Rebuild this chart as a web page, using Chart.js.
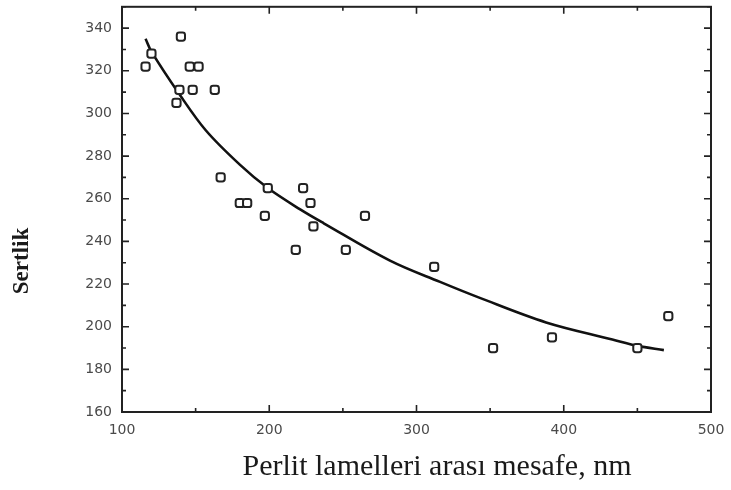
<!DOCTYPE html>
<html>
<head>
<meta charset="utf-8">
<script src="https://cdn.jsdelivr.net/npm/chart.js@4/dist/chart.umd.min.js"></script>
<style>
  html, body { margin: 0; padding: 0; background: #fff; }
  #wrap { width: 731px; height: 490px; }
</style>
</head>
<body>
<div id="wrap"><canvas id="hardnessChart"></canvas></div>
<script>
// measured points (spacing nm, hardness)
var spacingX = [116, 120, 140, 146, 152, 139, 148, 163, 137, 167, 180, 185, 199, 223, 228, 197, 265, 230, 218, 252, 312, 352, 392, 450, 471];
var hardnessY = [322, 328, 336, 322, 322, 311, 311, 311, 305, 270, 258, 258, 265, 265, 258, 252, 252, 247, 236, 236, 228, 190, 195, 190, 205];

// trend curve
var curveX = [116, 120, 139, 157, 180, 199, 221, 237, 282, 316, 343, 388, 433, 450, 468];
var curveY = [335, 329, 309, 292, 276, 265, 255, 248.5, 231, 221, 213.5, 202, 194, 191, 189];

var xTickLabels = [100, 200, 300, 400, 500];
var yTickLabels = [160, 180, 200, 220, 240, 260, 280, 300, 320, 340];

function toPoints(xs, ys) {
  return xs.map(function(x, i) { return { x: x, y: ys[i] }; });
}

// frame, inward ticks on all four sides, axis titles
var framePlugin = {
  id: 'frame',
  afterDraw: function(chart) {
    var c = chart.ctx, a = chart.chartArea;
    var xs = chart.scales.x, ys = chart.scales.y;
    c.save();
    c.strokeStyle = '#222';
    c.lineWidth = 2;
    c.strokeRect(a.left, a.top, a.right - a.left, a.bottom - a.top);

    c.lineWidth = 1.6;
    c.beginPath();
    for (var v = 100; v <= 500; v += 50) {
      var px = xs.getPixelForValue(v);
      var len = (v % 100 === 0) ? 7 : 4;
      c.moveTo(px, a.bottom); c.lineTo(px, a.bottom - len);
      c.moveTo(px, a.top); c.lineTo(px, a.top + len);
    }
    for (var w = 160; w <= 350; w += 10) {
      var py = ys.getPixelForValue(w);
      var len2 = (w % 20 === 0) ? 7 : 4;
      c.moveTo(a.left, py); c.lineTo(a.left + len2, py);
      c.moveTo(a.right, py); c.lineTo(a.right - len2, py);
    }
    c.stroke();

    // axis titles
    c.fillStyle = '#1a1a1a';
    c.textAlign = 'center';
    c.textBaseline = 'middle';
    c.font = '30px "Liberation Serif", "DejaVu Serif", serif';
    c.fillText('Perlit lamelleri arası mesafe, nm', 437, 467);

    c.translate(22, 261);
    c.rotate(-Math.PI / 2);
    c.font = 'bold 23px "Liberation Serif", "DejaVu Serif", serif';
    c.fillText('Sertlik', 0, 0);
    c.restore();
  }
};

var ctx = document.getElementById('hardnessChart').getContext('2d');
var hardnessChart = new Chart(ctx, {
  type: 'scatter',
  data: {
    datasets: [{
      label: 'Ölçüm',
      data: toPoints(spacingX, hardnessY),
      pointStyle: 'rectRounded',
      pointRadius: 4.8,
      pointHoverRadius: 4.8,
      borderWidth: 2,
      borderColor: '#222',
      backgroundColor: '#fff',
      order: 1
    }, {
      type: 'line',
      label: 'Eğri',
      data: toPoints(curveX, curveY),
      borderColor: '#111',
      borderWidth: 2.6,
      pointRadius: 0,
      fill: false,
      tension: 0.35,
      order: 2
    }]
  },
  options: {
    responsive: true,
    maintainAspectRatio: false,
    animation: false,
    layout: { padding: { top: 6, right: 20, left: 0, bottom: 0 } },
    plugins: {
      legend: { display: false },
      tooltip: { enabled: false }
    },
    scales: {
      x: {
        type: 'linear',
        min: 100,
        max: 500,
        grid: { display: false, drawTicks: false },
        border: { display: false },
        afterFit: function(s) { s.height = 78; s.paddingLeft = 0; s.paddingRight = 0; },
        ticks: {
          stepSize: 50,
          padding: 10,
          color: '#4a4a4a',
          font: { family: '"DejaVu Sans", sans-serif', size: 14 },
          callback: function(v) { return xTickLabels.indexOf(v) >= 0 ? v : ''; }
        }
      },
      y: {
        type: 'linear',
        min: 160,
        max: 350,
        grid: { display: false, drawTicks: false },
        border: { display: false },
        afterFit: function(s) { s.width = 122; s.paddingTop = 0; s.paddingBottom = 0; },
        ticks: {
          stepSize: 10,
          padding: 10,
          color: '#4a4a4a',
          font: { family: '"DejaVu Sans", sans-serif', size: 14 },
          callback: function(v) { return yTickLabels.indexOf(v) >= 0 ? v : ''; }
        }
      }
    }
  },
  plugins: [framePlugin]
});
</script>
</body>
</html>
